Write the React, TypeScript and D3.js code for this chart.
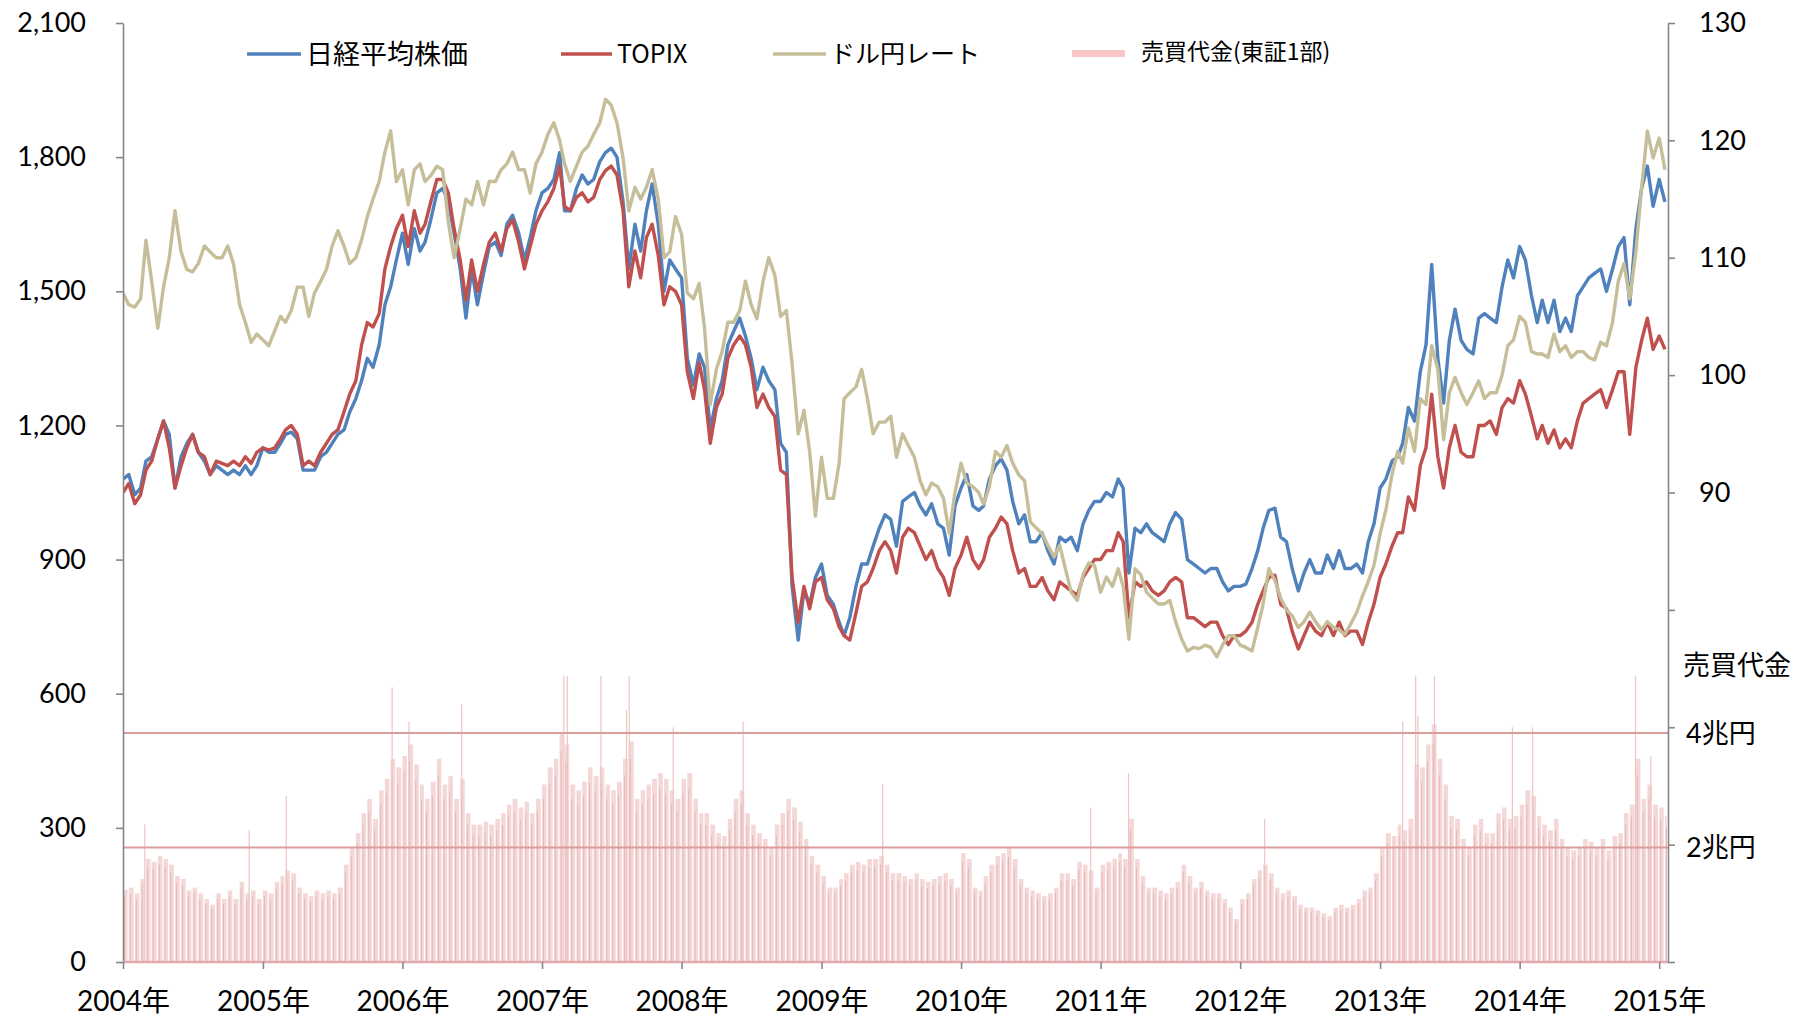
import React, { useEffect, useRef } from "react";
import * as d3 from "d3";

// half-month samples (1st and 16th of each month), Jan 2004 - Jan 2015
// 日経平均株価 (plotted at 1/10 on the left axis)
const nikkei = [
  10800, 10900, 10450, 10600, 11200, 11300, 11700, 12100, 11800, 10600, 11300, 11600, 11800, 11400, 11200, 10900, 11100, 11000, 10900, 11000, 10900, 11100, 10900, 11100, // 2004
  11500, 11400, 11400, 11600, 11800, 11850, 11700, 11000, 11000, 11000, 11300, 11400, 11600, 11800, 11900, 12300, 12600, 13000, 13500, 13300, 13800, 14700, 15100, 15700, // 2005
  16300, 15600, 16400, 15900, 16100, 16600, 17200, 17300, 17000, 16300, 15500, 14400, 15500, 14700, 15400, 16000, 16100, 15800, 16500, 16700, 16300, 15700, 16200, 16800, // 2006
  17200, 17300, 17500, 18100, 16800, 16800, 17300, 17600, 17400, 17500, 17900, 18100, 18200, 18000, 17000, 15500, 16500, 15900, 16800, 17400, 16500, 15000, 15700, 15500, // 2007
  15300, 13500, 12900, 13600, 13300, 11900, 12600, 13000, 13800, 14100, 14400, 14000, 13500, 12800, 13300, 13000, 12800, 11600, 11400, 8400, 7200, 8300, 8000, 8600, // 2008
  8900, 8200, 8000, 7600, 7300, 7700, 8400, 8900, 8900, 9300, 9700, 10000, 9900, 9300, 10300, 10400, 10500, 10200, 10000, 10250, 9800, 9700, 9100, 10200, // 2009
  10600, 10900, 10200, 10100, 10200, 10800, 11100, 11250, 11000, 10300, 9800, 10000, 9400, 9400, 9600, 9200, 8900, 9500, 9400, 9500, 9200, 9800, 10100, 10300, // 2010
  10300, 10500, 10400, 10800, 10600, 8700, 9700, 9600, 9800, 9600, 9500, 9400, 9800, 10050, 9900, 9000, 8900, 8800, 8700, 8800, 8800, 8500, 8300, 8400, // 2011
  8400, 8450, 8800, 9200, 9700, 10100, 10150, 9500, 9400, 8800, 8300, 8700, 9000, 8700, 8700, 9100, 8800, 9200, 8800, 8800, 8900, 8700, 9400, 9800, // 2012
  10600, 10800, 11200, 11300, 11600, 12400, 12100, 13200, 13800, 15600, 13500, 12500, 13900, 14600, 13900, 13700, 13600, 14400, 14500, 14400, 14300, 15100, 15700, 15300, // 2013
  16000, 15700, 14900, 14300, 14800, 14300, 14800, 14100, 14400, 14100, 14900, 15100, 15300, 15400, 15500, 15000, 15500, 16000, 16200, 14700, 16400, 17300, 17800, 16900, // 2014
  17500, 17000, // 2015
];

const topix = [
  1050, 1070, 1025, 1045, 1100, 1120, 1170, 1210, 1150, 1060, 1110, 1150, 1180, 1140, 1130, 1090, 1120, 1115, 1110, 1120, 1110, 1130, 1115, 1140,
  1150, 1145, 1150, 1170, 1190, 1200, 1180, 1110, 1120, 1110, 1140, 1160, 1180, 1190, 1230, 1270, 1300, 1380, 1430, 1420, 1450, 1550, 1600, 1640,
  1670, 1600, 1680, 1630, 1650, 1700, 1750, 1750, 1720, 1640, 1570, 1480, 1570, 1500, 1560, 1610, 1630, 1590, 1640, 1660, 1610, 1550, 1600, 1650,
  1680, 1700, 1730, 1780, 1690, 1680, 1710, 1720, 1700, 1710, 1750, 1770, 1780, 1760, 1680, 1510, 1590, 1530, 1620, 1650, 1580, 1470, 1510, 1500,
  1470, 1320, 1260, 1340, 1280, 1160, 1240, 1270, 1350, 1380, 1400, 1380, 1330, 1240, 1270, 1240, 1220, 1100, 1090, 860, 760, 840, 790, 850,
  860, 810, 790, 750, 730, 720, 780, 840, 850, 880, 920, 940, 920, 870, 950, 970, 960, 930, 900, 920, 880, 860, 820, 880,
  910, 950, 900, 880, 900, 950, 970, 995, 980, 920, 870, 880, 840, 840, 860, 830, 810, 850, 840, 830, 820, 860, 880, 900,
  900, 920, 920, 960, 940, 770, 850, 840, 850, 830, 820, 830, 850, 860, 850, 770, 770, 760, 750, 760, 760, 730, 710, 730,
  730, 740, 760, 800, 830, 860, 865, 800, 790, 740, 700, 730, 760, 740, 730, 760, 730, 760, 730, 740, 740, 710, 760, 800,
  860, 890, 930, 960, 960, 1040, 1010, 1110, 1150, 1270, 1130, 1060, 1150, 1200, 1140, 1130, 1130, 1200, 1200, 1210, 1180, 1240, 1260, 1250,
  1300, 1270, 1220, 1170, 1200, 1160, 1190, 1150, 1170, 1150, 1210, 1250, 1260, 1270, 1280, 1240, 1280, 1320, 1320, 1180, 1330, 1390, 1440, 1370,
  1400, 1370,
];

// ドル円レート (right axis)
const usdjpy = [
  107.0, 106.0, 105.8, 106.5, 111.5, 108.0, 104.0, 107.5, 110.0, 114.0, 110.5, 109.0, 108.8, 109.5, 111.0, 110.5, 110.0, 110.0, 111.0, 109.5, 106.0, 104.5, 102.8, 103.5,
  103.0, 102.5, 103.8, 105.0, 104.5, 105.5, 107.5, 107.5, 105.0, 107.0, 108.0, 109.0, 111.0, 112.3, 111.0, 109.5, 110.0, 111.5, 113.5, 115.0, 116.5, 119.0, 120.8, 116.5,
  117.5, 114.5, 117.5, 118.0, 116.5, 117.0, 117.8, 117.5, 113.0, 110.0, 112.5, 115.0, 114.5, 116.5, 114.5, 116.5, 116.5, 117.5, 118.0, 119.0, 117.5, 117.5, 115.5, 118.0,
  119.0, 120.5, 121.5, 120.0, 118.0, 116.5, 117.8, 119.0, 119.5, 120.5, 121.5, 123.5, 123.0, 121.5, 118.5, 114.0, 116.0, 115.0, 116.0, 117.5, 115.0, 110.0, 110.5, 113.5,
  112.0, 107.0, 106.5, 107.8, 104.0, 97.5, 100.5, 102.0, 104.5, 104.5, 105.5, 108.0, 106.0, 104.8, 108.0, 110.0, 108.5, 105.0, 105.5, 101.0, 95.0, 97.0, 93.5, 88.0,
  93.0, 89.5, 89.5, 92.5, 98.0, 98.5, 99.0, 100.5, 98.0, 95.0, 96.0, 96.0, 96.5, 93.0, 95.0, 94.0, 93.0, 91.0, 89.8, 90.8, 90.5, 89.5, 86.5, 90.0,
  92.5, 90.8, 90.5, 90.0, 89.0, 90.5, 93.5, 93.0, 94.0, 92.5, 91.5, 91.0, 87.5, 87.0, 86.5, 85.5, 84.5, 85.5, 83.5, 81.5, 80.8, 83.0, 84.0, 83.8,
  81.5, 82.8, 82.0, 83.5, 82.0, 77.5, 83.5, 83.0, 81.5, 81.0, 80.5, 80.5, 80.8, 79.0, 77.5, 76.5, 76.8, 76.7, 77.0, 76.8, 76.0, 77.0, 77.8, 77.8,
  77.0, 76.8, 76.5, 78.5, 80.5, 83.5, 82.5, 81.0, 80.0, 79.5, 78.5, 79.0, 79.8, 79.0, 78.3, 79.0, 78.5, 78.3, 77.9, 78.8, 79.8, 81.2, 82.4, 83.8,
  86.5, 88.5, 91.5, 93.5, 92.5, 95.5, 93.5, 98.0, 97.5, 102.5, 100.5, 94.5, 98.5, 99.8, 98.5, 97.5, 98.5, 99.5, 98.0, 98.5, 98.5, 100.0, 102.5, 103.0,
  105.0, 104.5, 102.0, 101.8, 101.8, 101.5, 103.5, 102.0, 102.5, 101.5, 102.0, 102.0, 101.5, 101.3, 102.8, 102.5, 104.5, 108.0, 109.5, 106.5, 110.5, 116.0, 120.8, 118.5,
  120.2, 117.5,
];

// 売買代金(東証1部), 兆円
const volume = [
  1.26, 1.3, 1.2, 1.45, 1.8, 1.75, 1.85, 1.8, 1.7, 1.5, 1.45, 1.25, 1.3, 1.2, 1.1, 1.0, 1.2, 1.1, 1.25, 1.1, 1.4, 1.2, 1.25, 1.1,
  1.25, 1.2, 1.4, 1.5, 1.6, 1.55, 1.3, 1.2, 1.15, 1.25, 1.2, 1.25, 1.2, 1.3, 1.7, 2.0, 2.25, 2.6, 2.85, 2.5, 3.0, 3.2, 3.55, 3.4,
  3.6, 3.8, 3.45, 3.1, 2.85, 3.15, 3.55, 3.1, 3.25, 2.85, 3.2, 2.6, 2.4, 2.4, 2.45, 2.4, 2.5, 2.6, 2.75, 2.85, 2.7, 2.8, 2.6, 2.85,
  3.1, 3.4, 3.55, 4.0, 3.8, 3.1, 3.0, 3.15, 3.4, 3.25, 3.4, 3.1, 3.0, 3.15, 3.55, 3.85, 2.85, 3.0, 3.1, 3.2, 3.3, 3.2, 3.0, 2.85,
  3.2, 3.3, 2.85, 2.6, 2.6, 2.4, 2.25, 2.2, 2.5, 2.85, 3.0, 2.6, 2.4, 2.25, 2.15, 2.0, 2.4, 2.6, 2.85, 2.7, 2.45, 2.15, 1.85, 1.7,
  1.5, 1.3, 1.3, 1.45, 1.55, 1.7, 1.75, 1.7, 1.8, 1.8, 1.85, 1.7, 1.55, 1.55, 1.5, 1.45, 1.55, 1.45, 1.4, 1.45, 1.5, 1.55, 1.45, 1.3,
  1.9, 1.8, 1.3, 1.25, 1.5, 1.7, 1.85, 1.9, 2.0, 1.8, 1.45, 1.3, 1.25, 1.2, 1.15, 1.2, 1.3, 1.55, 1.55, 1.45, 1.75, 1.7, 1.6, 1.3,
  1.7, 1.75, 1.8, 1.9, 1.8, 2.5, 1.8, 1.5, 1.3, 1.3, 1.25, 1.2, 1.3, 1.4, 1.7, 1.5, 1.3, 1.4, 1.25, 1.2, 1.2, 1.1, 0.95, 0.75,
  1.1, 1.2, 1.45, 1.6, 1.7, 1.55, 1.3, 1.2, 1.25, 1.15, 1.0, 0.95, 0.95, 0.9, 0.85, 0.8, 0.95, 1.0, 0.95, 1.0, 1.1, 1.25, 1.3, 1.55,
  2.0, 2.25, 2.2, 2.4, 2.3, 2.5, 3.45, 3.4, 3.8, 4.15, 3.55, 3.1, 2.55, 2.5, 2.15, 2.0, 2.4, 2.5, 2.25, 2.25, 2.6, 2.7, 2.5, 2.55,
  2.75, 3.0, 2.9, 2.55, 2.4, 2.3, 2.5, 2.15, 2.0, 1.95, 2.0, 2.15, 2.1, 2.0, 2.15, 1.95, 2.2, 2.25, 2.6, 2.75, 3.55, 2.85, 3.1, 2.75,
  2.7, 2.55,
];

// single heavy trading days
const spikeDates = [
  "2004-02-27", "2004-11-26", "2005-03-03", "2005-12-05", "2006-01-18", "2006-06-05",
  "2007-02-27", "2007-03-08", "2007-06-04", "2007-08-10", "2007-08-17", "2007-12-10",
  "2008-06-10", "2009-06-10", "2010-12-06", "2011-03-15", "2012-03-05", "2013-03-01",
  "2013-04-04", "2013-04-10", "2013-05-23", "2013-12-13", "2014-02-04", "2014-10-31", "2014-12-10",
];
const spikeValues = [
  2.4, 2.3, 2.9, 4.8, 4.2, 4.5,
  5.0, 5.0, 5.0, 4.4, 5.0, 4.1,
  4.2, 3.1, 2.7, 3.3, 2.5, 4.2,
  5.0, 4.3, 5.0, 4.1, 4.1, 5.0, 3.6,
];

const leftTicks = [0, 300, 600, 900, 1200, 1500, 1800, 2100];
const rightTicks = [50, 60, 70, 80, 90, 100, 110, 120, 130];
const rightLabelFrom = 90;
const volumeTicks = [2, 4];
const years = d3.range(2004, 2016);

const dates = nikkei.map((_, i) => new Date(2004, Math.floor(i / 2), i % 2 ? 16 : 1));

const BLUE = "#4F81BD";
const RED = "#C0504D";
const TAN = "#C6BE98";
const FONT = "Lato, 'Noto Sans CJK JP', sans-serif";
const JP = "'Noto Sans CJK JP', sans-serif";

function drawChart(el: SVGSVGElement) {
  const width = 1804;
  const height = 1019;
  const left = 123, right = 1668, top = 23, bottom = 962;

  const svg = d3.select(el);
  svg.selectAll("*").remove();
  svg.attr("width", width).attr("height", height).attr("viewBox", [0, 0, width, height]).attr("font-family", FONT);

  const x = d3.scaleTime([new Date(2004, 0, 1), new Date(2015, 0, 24)], [left, right]);
  const yL = d3.scaleLinear([0, 2100], [bottom, top]);
  const yR = d3.scaleLinear([50, 130], [bottom, top]);
  const yV = d3.scaleLinear([0, 4], [bottom, 733]);

  svg.append("defs").append("clipPath").attr("id", "plot-clip")
    .append("rect").attr("x", left).attr("y", top).attr("width", right - left).attr("height", bottom - top);

  // volume bars: light fill with a darker edge line, as the daily bars look
  const endDate = x.domain()[1];
  const bars = svg.append("g")
    .selectAll("g")
    .data(volume)
    .join("g");
  bars.append("rect")
    .attr("x", (d, i) => x(dates[i]))
    .attr("width", (d, i) => Math.max(1, x(dates[i + 1] ?? endDate) - x(dates[i]) - 1.2))
    .attr("y", d => yV(d))
    .attr("height", d => yV(0) - yV(d))
    .attr("fill", "#F4D8D8");
  bars.append("line")
    .attr("x1", (d, i) => x(dates[i]) + 1.5)
    .attr("x2", (d, i) => x(dates[i]) + 1.5)
    .attr("y1", yV(0))
    .attr("y2", d => yV(d * 0.92))
    .attr("stroke", "#E8B6B6")
    .attr("stroke-width", 1);

  svg.append("g")
    .selectAll("line")
    .data(spikeValues)
    .join("line")
    .attr("x1", (d, i) => x(new Date(spikeDates[i])))
    .attr("x2", (d, i) => x(new Date(spikeDates[i])))
    .attr("y1", yV(0))
    .attr("y2", d => yV(d))
    .attr("stroke", "#EEC4C4")
    .attr("stroke-width", 1.2);

  // 2兆円 / 4兆円 reference lines
  svg.append("g")
    .selectAll("line")
    .data(volumeTicks)
    .join("line")
    .attr("x1", left).attr("x2", right)
    .attr("y1", d => yV(d)).attr("y2", d => yV(d))
    .attr("stroke", "#DC9C9B")
    .attr("stroke-width", 2.2);

  // price lines
  const lines = svg.append("g").attr("clip-path", "url(#plot-clip)").attr("fill", "none")
    .attr("stroke-width", 3.4).attr("stroke-linejoin", "round");

  lines.append("path")
    .attr("stroke", BLUE)
    .attr("d", d3.line<number>().x((d, i) => x(dates[i])).y(d => yL(d / 10))(nikkei));
  lines.append("path")
    .attr("stroke", RED)
    .attr("d", d3.line<number>().x((d, i) => x(dates[i])).y(d => yL(d))(topix));
  lines.append("path")
    .attr("stroke", TAN)
    .attr("d", d3.line<number>().x((d, i) => x(dates[i])).y(d => yR(d))(usdjpy));

  // axes
  svg.append("g")
    .attr("transform", `translate(${left},0)`)
    .call(d3.axisLeft(yL).tickValues(leftTicks).tickFormat(d3.format(",")).tickSize(7).tickSizeOuter(0).tickPadding(30))
    .call(g => g.attr("font-family", FONT).attr("font-size", 27))
    .call(g => g.selectAll(".domain, .tick line").attr("stroke", "#868686").attr("stroke-width", 1.6))
    .call(g => g.selectAll("text").attr("fill", "#000"));

  svg.append("g")
    .attr("transform", `translate(${right},0)`)
    .call(d3.axisRight(yR).tickValues(rightTicks).tickFormat(d => (+d >= rightLabelFrom ? String(d) : "")).tickSize(7).tickSizeOuter(0).tickPadding(24))
    .call(g => g.attr("font-family", FONT).attr("font-size", 27))
    .call(g => g.selectAll(".domain, .tick line").attr("stroke", "#868686").attr("stroke-width", 1.6))
    .call(g => g.selectAll("text").attr("fill", "#000"));

  svg.append("g")
    .selectAll("text")
    .data(volumeTicks)
    .join("text")
    .attr("x", 1686)
    .attr("y", d => yV(d))
    .attr("dy", "0.36em")
    .attr("font-family", FONT)
    .attr("font-size", 27)
    .text(d => `${d}兆円`);

  svg.append("text")
    .attr("x", 1683)
    .attr("y", 665)
    .attr("dy", "0.36em")
    .attr("font-family", JP)
    .attr("font-size", 27)
    .text("売買代金");

  svg.append("line")
    .attr("x1", left).attr("x2", right)
    .attr("y1", bottom).attr("y2", bottom)
    .attr("stroke", "#E2AAAA").attr("stroke-width", 2.6);

  svg.append("g")
    .attr("transform", `translate(0,${bottom})`)
    .call(d3.axisBottom(x).tickValues(years.map(y => new Date(y, 0, 1))).tickFormat(d => `${(d as Date).getFullYear()}年`).tickSize(7).tickSizeOuter(0).tickPadding(22))
    .call(g => g.select(".domain").remove())
    .call(g => g.attr("font-family", FONT).attr("font-size", 28))
    .call(g => g.selectAll(".tick line").attr("stroke", "#868686").attr("stroke-width", 1.6))
    .call(g => g.selectAll("text").attr("fill", "#000"));

  // legend
  const legend = svg.append("g").attr("font-family", JP);
  const items = [
    { label: "日経平均株価", color: BLUE, x1: 247, x2: 301, tx: 306, size: 27 },
    { label: "TOPIX", color: RED, x1: 561, x2: 612, tx: 617, size: 25 },
    { label: "ドル円レート", color: TAN, x1: 773, x2: 826, tx: 830, size: 25 },
  ];
  items.forEach(it => {
    legend.append("line").attr("x1", it.x1).attr("x2", it.x2).attr("y1", 54).attr("y2", 54)
      .attr("stroke", it.color).attr("stroke-width", 3.4);
    legend.append("text").attr("x", it.tx).attr("y", 54).attr("dy", "0.36em")
      .attr("font-size", it.size).text(it.label);
  });
  legend.append("rect").attr("x", 1072).attr("y", 50).attr("width", 53).attr("height", 7).attr("fill", "#F8C6C6");
  legend.append("text").attr("x", 1141).attr("y", 52).attr("dy", "0.36em")
    .attr("font-size", 23).text("売買代金(東証1部)");
}

export default function App() {
  const ref = useRef<SVGSVGElement>(null);
  useEffect(() => {
    document.body.style.margin = "0";
    if (ref.current) drawChart(ref.current);
  }, []);
  return (
    <div style={{ width: 1804, height: 1019, background: "#fff" }}>
      <svg ref={ref} style={{ display: "block" }} />
    </div>
  );
}
